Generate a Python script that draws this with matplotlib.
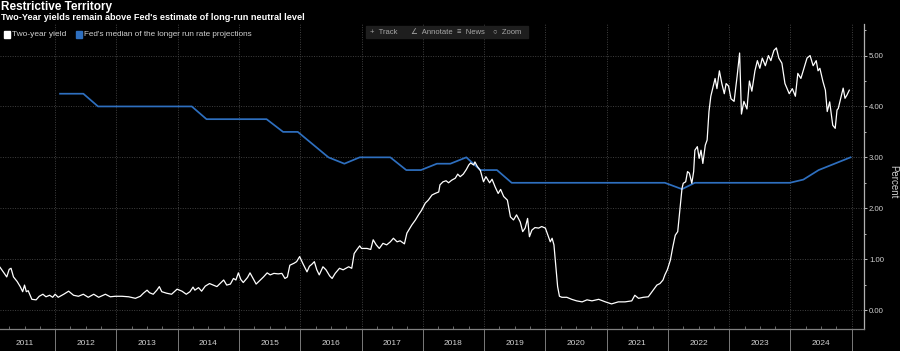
import matplotlib.pyplot as plt
from matplotlib.patches import Rectangle
from matplotlib.ticker import FixedLocator, MultipleLocator
import numpy as np

# two-year treasury yield (decimal year, percent)
yield_years = [
    2011.10, 2011.13, 2011.17, 2011.21, 2011.25, 2011.28, 2011.32, 2011.38, 2011.43, 2011.47,
    2011.50, 2011.53, 2011.56, 2011.62, 2011.69, 2011.74, 2011.80, 2011.85, 2011.91, 2011.96,
    2012.00, 2012.05, 2012.14, 2012.22, 2012.30, 2012.38, 2012.46, 2012.54, 2012.63, 2012.71,
    2012.82, 2012.90, 2012.98, 2013.09, 2013.20, 2013.31, 2013.39, 2013.44, 2013.50, 2013.54,
    2013.60, 2013.66, 2013.70, 2013.74, 2013.82, 2013.90, 2013.99, 2014.07, 2014.14, 2014.20,
    2014.25, 2014.28, 2014.34, 2014.39, 2014.45, 2014.52, 2014.58, 2014.64, 2014.69, 2014.75,
    2014.80, 2014.86, 2014.91, 2014.95, 2014.99, 2015.03, 2015.07, 2015.14, 2015.18, 2015.23,
    2015.28, 2015.35, 2015.40, 2015.46, 2015.51, 2015.57, 2015.64, 2015.70, 2015.75, 2015.79,
    2015.83, 2015.90, 2015.94, 2015.99, 2016.04, 2016.11, 2016.15, 2016.19, 2016.23, 2016.27,
    2016.31, 2016.37, 2016.42, 2016.48, 2016.52, 2016.57, 2016.64, 2016.70, 2016.79, 2016.84,
    2016.88, 2016.92, 2016.97, 2017.00, 2017.09, 2017.15, 2017.19, 2017.24, 2017.29, 2017.35,
    2017.41, 2017.47, 2017.52, 2017.58, 2017.63, 2017.70, 2017.74, 2017.82, 2017.88, 2017.93,
    2017.98, 2018.04, 2018.09, 2018.15, 2018.20, 2018.26, 2018.28, 2018.33, 2018.38, 2018.42,
    2018.47, 2018.53, 2018.57, 2018.61, 2018.66, 2018.71, 2018.75, 2018.78, 2018.83, 2018.85,
    2018.89, 2018.94, 2018.99, 2019.03, 2019.09, 2019.13, 2019.18, 2019.23, 2019.27, 2019.32,
    2019.38, 2019.43, 2019.48, 2019.53, 2019.59, 2019.63, 2019.67, 2019.71, 2019.74, 2019.78,
    2019.83, 2019.89, 2019.94, 2020.00, 2020.03, 2020.08, 2020.11, 2020.14, 2020.18, 2020.20,
    2020.23, 2020.27, 2020.35, 2020.43, 2020.51, 2020.60, 2020.68, 2020.76, 2020.87, 2020.98,
    2021.08, 2021.19, 2021.30, 2021.41, 2021.46, 2021.52, 2021.60, 2021.68, 2021.76, 2021.82,
    2021.87, 2021.92, 2021.95, 2021.99, 2022.04, 2022.08, 2022.12, 2022.16, 2022.19, 2022.23,
    2022.25, 2022.29, 2022.32, 2022.35, 2022.39, 2022.42, 2022.44, 2022.48, 2022.51, 2022.54,
    2022.57, 2022.61, 2022.64, 2022.67, 2022.70, 2022.74, 2022.77, 2022.80, 2022.84, 2022.88,
    2022.92, 2022.95, 2022.99, 2023.03, 2023.08, 2023.13, 2023.17, 2023.20, 2023.24, 2023.29,
    2023.33, 2023.37, 2023.42, 2023.46, 2023.50, 2023.54, 2023.59, 2023.64, 2023.68, 2023.73,
    2023.77, 2023.81, 2023.86, 2023.91, 2023.98, 2024.03, 2024.08, 2024.12, 2024.17, 2024.22,
    2024.27, 2024.32, 2024.37, 2024.42, 2024.45, 2024.48, 2024.53, 2024.57, 2024.59, 2024.60,
    2024.64, 2024.66, 2024.69, 2024.73, 2024.76, 2024.78, 2024.82, 2024.86, 2024.89, 2024.92,
    2024.96,
]
yield_values = [
    0.84, 0.79, 0.72, 0.65, 0.80, 0.82, 0.65, 0.56, 0.46, 0.36,
    0.49, 0.36, 0.38, 0.21, 0.20, 0.27, 0.31, 0.26, 0.29, 0.25,
    0.31, 0.25, 0.31, 0.37, 0.29, 0.27, 0.31, 0.25, 0.31, 0.25,
    0.31, 0.26, 0.27, 0.27, 0.26, 0.23, 0.27, 0.33, 0.39, 0.34,
    0.31, 0.39, 0.46, 0.36, 0.33, 0.31, 0.41, 0.37, 0.31, 0.36,
    0.45, 0.39, 0.44, 0.37, 0.47, 0.52, 0.49, 0.46, 0.52, 0.59,
    0.49, 0.51, 0.62, 0.59, 0.73, 0.60, 0.54, 0.64, 0.73, 0.62,
    0.51, 0.59, 0.65, 0.73, 0.69, 0.72, 0.71, 0.72, 0.62, 0.65,
    0.88, 0.92, 0.95, 1.05, 0.92, 0.75, 0.86, 0.90, 0.95, 0.79,
    0.69, 0.85, 0.79, 0.67, 0.62, 0.72, 0.82, 0.79, 0.85, 0.82,
    1.11, 1.18, 1.26, 1.21, 1.21, 1.19, 1.38, 1.28, 1.21, 1.31,
    1.28, 1.34, 1.41, 1.34, 1.36, 1.30, 1.51, 1.67, 1.77, 1.87,
    1.96, 2.10, 2.16, 2.26, 2.29, 2.32, 2.46, 2.52, 2.54, 2.50,
    2.55, 2.59, 2.67, 2.62, 2.67, 2.76, 2.85, 2.89, 2.85, 2.91,
    2.82, 2.74, 2.52, 2.62, 2.50, 2.57, 2.42, 2.29, 2.37, 2.23,
    2.16, 1.83, 1.77, 1.87, 1.73, 1.54, 1.61, 1.80, 1.44, 1.57,
    1.62, 1.61, 1.64, 1.61, 1.51, 1.34, 1.41, 1.28, 0.72, 0.46,
    0.27, 0.25, 0.25, 0.21, 0.18, 0.16, 0.20, 0.18, 0.21, 0.16,
    0.12, 0.16, 0.16, 0.18, 0.29, 0.23, 0.25, 0.26, 0.39, 0.49,
    0.52, 0.59, 0.69, 0.79, 0.98, 1.24, 1.47, 1.54, 1.90, 2.39,
    2.49, 2.52, 2.72, 2.69, 2.49, 2.72, 3.14, 3.21, 2.98, 3.14,
    2.88, 3.24, 3.34, 3.90, 4.20, 4.40, 4.55, 4.35, 4.70, 4.45,
    4.25, 4.45, 4.40, 4.15, 4.10, 4.60, 5.05, 3.85, 4.10, 3.95,
    4.50, 4.30, 4.70, 4.90, 4.75, 4.95, 4.80, 5.00, 4.90, 5.10,
    5.15, 4.95, 4.85, 4.45, 4.25, 4.35, 4.20, 4.65, 4.55, 4.75,
    4.95, 5.00, 4.80, 4.90, 4.70, 4.75, 4.49, 4.32, 4.03, 3.90,
    4.09, 3.90, 3.63, 3.57, 3.93, 3.96, 4.16, 4.36, 4.16, 4.22,
    4.32,
]

# Fed median longer-run rate projection
fed_years = [
    2012.08, 2012.46, 2012.70, 2014.23, 2014.47, 2015.45, 2015.72, 2015.96, 2016.46, 2016.72,
    2016.97, 2017.47, 2017.73, 2017.97, 2018.23, 2018.45, 2018.71, 2018.94, 2019.21, 2019.45,
    2021.95, 2022.23, 2022.44, 2023.99, 2024.21, 2024.46, 2024.98,
]
fed_values = [
    4.25, 4.25, 4.00, 4.00, 3.75, 3.75, 3.50, 3.50, 3.00, 2.875,
    3.00, 3.00, 2.75, 2.75, 2.875, 2.875, 3.00, 2.75, 2.75, 2.50,
    2.50, 2.375, 2.50, 2.50, 2.5625, 2.75, 3.00,
]

year_labels = list(range(2011, 2025))
y_ticks = [0, 1, 2, 3, 4, 5]

TEXT = "#d0d0d0"
GRID = "#404040"
BLUE = "#2e6fbf"

plt.rcParams["font.family"] = ["Liberation Sans", "DejaVu Sans"]
plt.rcParams["axes.unicode_minus"] = False

fig = plt.figure(figsize=(9, 3.51), dpi=100, facecolor="black")
ax = fig.add_axes([0.0, 22 / 351, 864 / 900, 305 / 351], facecolor="black")

ax.plot(fed_years, fed_values, color=BLUE, linewidth=1.25, zorder=3)
ax.plot(yield_years, yield_values, color="white", linewidth=0.9, zorder=4)

ax.set_xlim(2011.10, 2025.20)
ax.set_ylim(-0.373, 5.62)

# x axis: long separators at year starts, quarter ticks inside, labels mid-year
ax.xaxis.set_major_locator(FixedLocator(list(range(2012, 2026))))
ax.xaxis.set_minor_locator(FixedLocator([y + q / 4 for y in range(2011, 2026) for q in (1, 2, 3)]))
ax.set_xticklabels([])
ax.tick_params(axis="x", which="major", direction="out", length=16, width=0.7, color="#7a7a7a")
ax.tick_params(axis="x", which="minor", direction="in", length=2.2, width=0.6, color="#7a7a7a")
for yr in year_labels:
    ax.text(yr + 0.5, -0.049, str(yr), transform=ax.get_xaxis_transform(),
            ha="center", va="center", fontsize=6, color=TEXT)

# y axis on the right
ax.yaxis.tick_right()
ax.set_yticks(y_ticks)
ax.set_yticklabels([f"{v:.2f}" for v in y_ticks])
ax.yaxis.set_minor_locator(MultipleLocator(0.5))
ax.tick_params(axis="y", which="both", direction="out", color="#bbbbbb", width=0.7,
               labelsize=5.6, labelcolor=TEXT, pad=1)
ax.tick_params(axis="y", which="major", length=2.5)
ax.tick_params(axis="y", which="minor", length=1.5)

ax.grid(True, which="major", color=GRID, linestyle=(0, (1, 1.5)), linewidth=0.7)
ax.set_axisbelow(True)
for side in ("left", "top"):
    ax.spines[side].set_visible(False)
ax.spines["right"].set_color("#b0b0b0")
ax.spines["right"].set_linewidth(0.9)
ax.spines["bottom"].set_color("#808080")
ax.spines["bottom"].set_linewidth(0.9)

fig.text(893 / 900, 1 - 182 / 351, "Percent", rotation=270, ha="center", va="center",
         fontsize=7, color=TEXT)

# titles
fig.text(1 / 900, 1 - 7 / 351, "Restrictive Territory", ha="left", va="center",
         fontsize=8.5, fontweight="bold", color="white")
fig.text(1 / 900, 1 - 17 / 351,
         "Two-Year yields remain above Fed's estimate of long-run neutral level",
         ha="left", va="center", fontsize=6.6, fontweight="bold", color="white")

# legend
fig.patches.append(Rectangle((4 / 900, 1 - 37.5 / 351), 6 / 900, 6 / 351,
                             transform=fig.transFigure, color="white"))
fig.text(12.5 / 900, 1 - 34.5 / 351, "Two-year yield", ha="left", va="center",
         fontsize=6, color=TEXT)
fig.patches.append(Rectangle((75.5 / 900, 1 - 37.5 / 351), 6 / 900, 6 / 351,
                             transform=fig.transFigure, color=BLUE))
fig.text(84 / 900, 1 - 34.5 / 351, "Fed's median of the longer run rate projections",
         ha="left", va="center", fontsize=5.9, color=TEXT)

# toolbar strip
fig.patches.append(Rectangle((366 / 900, 1 - 38 / 351), 162 / 900, 12 / 351,
                             transform=fig.transFigure, color="#1e1e1e"))
for xp, label in [(370, "+  Track"), (411, "∠  Annotate"), (457, "≡  News"), (493, "○  Zoom")]:
    fig.text(xp / 900, 1 - 32 / 351, label, ha="left", va="center", fontsize=5.5,
             color="#a8a8a8")

fig.savefig("out.png", dpi=100, facecolor="black")
